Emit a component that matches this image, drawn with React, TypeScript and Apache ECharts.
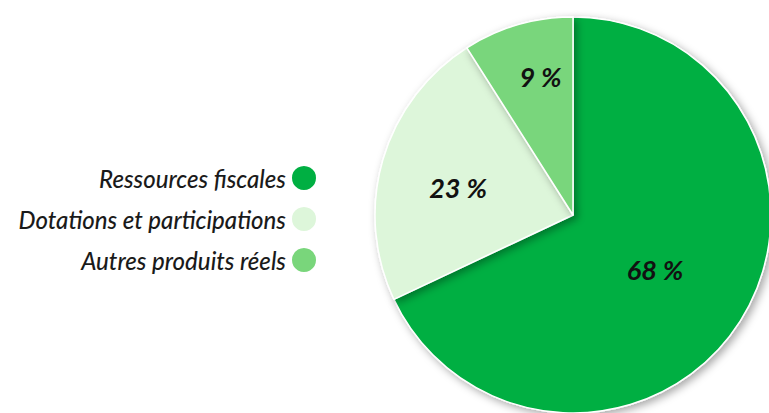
import React, { useEffect, useRef } from "react";
import * as echarts from "echarts";

const categories = ["Ressources fiscales", "Dotations et participations", "Autres produits réels"];
const values = [68, 23, 9];
const colors = ["#00AF42", "#DDF6DA", "#79D67B"];
const labelOffsets: number[][] = [[-4, 0], [-17, 1], [-4, -41]];

export default function App() {
  const ref = useRef<HTMLDivElement>(null);
  useEffect(() => {
    const chart = echarts.init(ref.current!, null, { renderer: "svg" });
    chart.setOption({
      animation: false,
      legend: {
        orient: "vertical",
        right: 446,
        top: 159,
        padding: 5,
        align: "right",
        icon: "circle",
        itemWidth: 26,
        itemHeight: 26,
        itemGap: 13,
        data: categories,
        textStyle: {
          fontFamily: "Lato",
          fontStyle: "italic",
          fontWeight: 500,
          fontSize: 24,
          color: "#1a1a1a",
        },
      },
      series: [
        {
          type: "pie",
          center: [573, 215],
          radius: 198,
          startAngle: 90,
          clockwise: true,
          itemStyle: {
            borderColor: "#fff",
            borderWidth: 1.5,
            shadowBlur: 8,
            shadowColor: "rgba(0,0,0,0.35)",
            shadowOffsetX: 3,
            shadowOffsetY: 3,
          },
          label: {
            show: true,
            position: "inside",
            formatter: "{c} %",
            fontFamily: "Lato",
            fontStyle: "italic",
            fontWeight: "bold",
            fontSize: 27,
            color: "#111",
          },
          labelLine: { show: false },
          emphasis: { disabled: true },
          data: categories.map((name, i) => ({
            name,
            value: values[i],
            itemStyle: { color: colors[i] },
            label: { offset: labelOffsets[i] },
          })),
        },
      ],
    });
    return () => chart.dispose();
  }, []);
  return (
    <div
      ref={ref}
      style={{ position: "fixed", left: 0, top: 0, width: 769, height: 413, background: "#fff" }}
    />
  );
}
